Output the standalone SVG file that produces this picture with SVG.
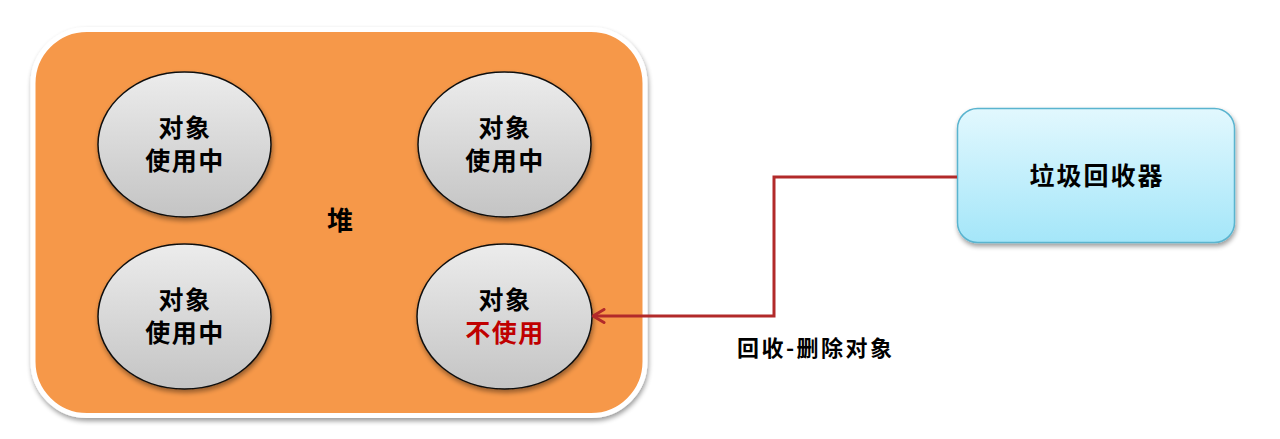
<svg xmlns="http://www.w3.org/2000/svg" width="1280" height="439" viewBox="0 0 1280 439">
<defs>
<linearGradient id="gEll" x1="0" y1="0" x2="0" y2="1">
<stop offset="0" stop-color="#ececec"/>
<stop offset="1" stop-color="#c4c4c4"/>
</linearGradient>
<linearGradient id="gGc" x1="0" y1="0" x2="0" y2="1">
<stop offset="0" stop-color="#e2f8fe"/>
<stop offset="1" stop-color="#a4e6f9"/>
</linearGradient>
<filter id="sh" x="-10%" y="-10%" width="130%" height="130%">
<feGaussianBlur in="SourceAlpha" stdDeviation="2.5"/>
<feOffset dx="1" dy="3" result="b"/>
<feComponentTransfer><feFuncA type="linear" slope="0.4"/></feComponentTransfer>
<feMerge><feMergeNode/><feMergeNode in="SourceGraphic"/></feMerge>
</filter>
<marker id="arr" viewBox="0 0 14 16" refX="12.5" refY="8" markerWidth="14" markerHeight="16" markerUnits="userSpaceOnUse" orient="auto">
<path d="M1.5,1.5 L12.5,8 L1.5,14.5" fill="none" stroke="#b22a2a" stroke-width="3" stroke-linecap="round" stroke-linejoin="round"/>
</marker>
<style>
.t{font-family:"Noto Sans CJK SC","Liberation Sans",sans-serif;font-weight:bold;text-anchor:middle;fill:#000}
.o{font-size:25px;letter-spacing:1.5px}
.ell{fill:url(#gEll);stroke:#111;stroke-width:1.5}
.red{fill:#c00000}
</style>
</defs>
<rect width="1280" height="439" fill="#fff"/>
<g id="heap">
<rect x="33" y="29.5" width="612" height="386" rx="54" fill="#f69849" stroke="#fff" stroke-width="5" filter="url(#sh)"/>
<text class="t" x="340" y="230" font-size="26">堆</text>
</g>
<g id="obj1">
<ellipse class="ell" cx="184.5" cy="144.5" rx="86.5" ry="72.5" filter="url(#sh)"/>
<text class="t o" x="185" y="137">对象</text>
<text class="t o" x="185" y="170">使用中</text>
</g>
<g id="obj2">
<ellipse class="ell" cx="504.5" cy="144.5" rx="86.5" ry="72.5" filter="url(#sh)"/>
<text class="t o" x="505" y="137">对象</text>
<text class="t o" x="505" y="170">使用中</text>
</g>
<g id="obj3">
<ellipse class="ell" cx="184.5" cy="316.5" rx="86.5" ry="72.5" filter="url(#sh)"/>
<text class="t o" x="185" y="309">对象</text>
<text class="t o" x="185" y="342">使用中</text>
</g>
<g id="obj4">
<ellipse class="ell" cx="504.5" cy="316.5" rx="87.5" ry="72.5" filter="url(#sh)"/>
<text class="t o" x="505" y="309">对象</text>
<text class="t o red" x="505" y="342">不使用</text>
</g>
<g id="gc">
<rect x="957.5" y="108.5" width="277" height="134" rx="20" fill="url(#gGc)" stroke="#5ab4cf" stroke-width="1.5" filter="url(#sh)"/>
<text class="t" x="1097" y="185" font-size="25" letter-spacing="2">垃圾回收器</text>
</g>
<g id="connectors">
<path d="M957,177 H774 V316 H593" fill="none" stroke="#b22a2a" stroke-width="3" marker-end="url(#arr)"/>
<text class="t" x="814.5" y="356" font-size="22" textLength="155" lengthAdjust="spacing">回收-删除对象</text>
</g>
</svg>
